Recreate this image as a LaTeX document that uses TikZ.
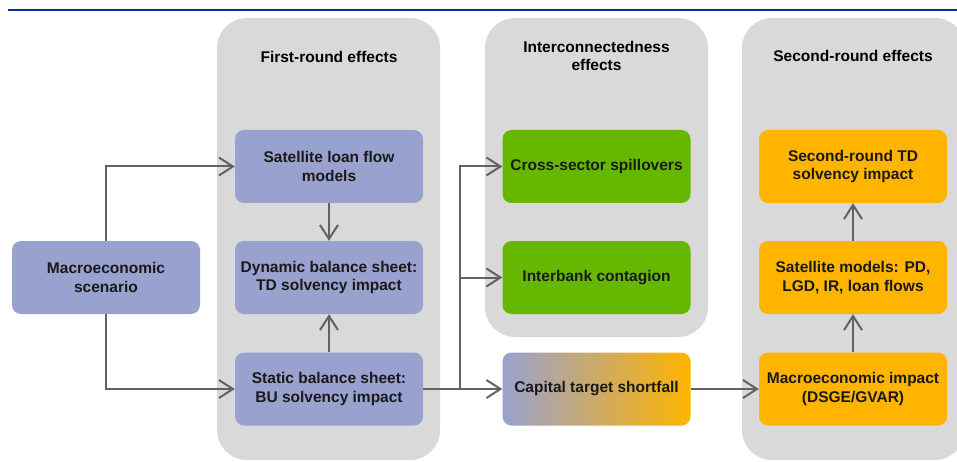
\documentclass[tikz,border=0pt]{standalone}
\usepackage{fontspec}
\setmainfont{Liberation Sans}
\usetikzlibrary{arrows.meta}

\definecolor{ecbblue}{RGB}{0,51,153}
\definecolor{panelgray}{RGB}{217,217,217}
\definecolor{lavender}{RGB}{153,161,207}
\definecolor{peach}{RGB}{214,170,150}
\definecolor{leafgreen}{RGB}{102,183,0}
\definecolor{amber}{RGB}{255,180,0}
\definecolor{linegray}{RGB}{98,98,98}

\begin{document}
\begin{tikzpicture}[x=1pt, y=1pt,
  font=\fontsize{15.5}{18.5}\selectfont\bfseries,
  panel/.style={fill=panelgray, rounded corners=30pt},
  stepbox/.style={rounded corners=9pt, minimum width=188pt, minimum height=73pt,
                  align=center, inner sep=0pt, text=black!90},
  arr/.style={draw=linegray, line width=2pt, -{Straight Barb[length=14pt,width=18pt]}}]

\useasboundingbox (0,0) rectangle (957,461);
\clip (0,0) rectangle (957,461);

% Header rule
\draw[ecbblue, line width=2pt] (8,451) -- (957,451);

% Panels
\fill[panel] (217,1) rectangle (440,443);
\fill[panel] (485,124) rectangle (708,443);
\fill[panel] (742,1) rectangle (965,443);

\node (firsthead) at (329,404) {First-round effects};
\node[align=center] (interhead) at (596.5,405) {Interconnectedness\\effects};
\node (secondhead) at (853,405) {Second-round effects};

% Boxes
\node[stepbox, fill=lavender] (macro) at (106,183.5) {Macroeconomic\\scenario};
\node[stepbox, fill=lavender] (satloan) at (329,294.5) {Satellite loan flow\\models};
\node[stepbox, fill=lavender] (dynamic) at (329,183.5) {Dynamic balance sheet:\\TD solvency impact};
\node[stepbox, fill=lavender] (static) at (329,72) {Static balance sheet:\\BU solvency impact};
\node[stepbox, fill=leafgreen] (cross) at (596.5,294.5) {Cross-sector spillovers};
\node[stepbox, fill=leafgreen] (interbank) at (596.5,183.5) {Interbank contagion};
\node[stepbox, left color=lavender, middle color=peach, right color=amber] (capital) at (596.5,72) {Capital target shortfall};
\node[stepbox, fill=amber] (impact) at (853,72) {Macroeconomic impact\\(DSGE/GVAR)};
\node[stepbox, fill=amber] (satmodels) at (853,183.5) {Satellite models: PD,\\LGD, IR, loan flows};
\node[stepbox, fill=amber] (secondtd) at (853,294.5) {Second-round TD\\solvency impact};

% Connectors
\coordinate (split) at (460,72);
\draw[arr] (macro.north) |- (satloan.west);
\draw[arr] (macro.south) |- (static.west);
\draw[arr] (satloan) -- (dynamic);
\draw[arr] (static) -- (dynamic);
\draw[arr] (static) -- (capital);
\draw[arr] (split) |- (cross.west);
\draw[arr] (split) |- (interbank.west);
\draw[arr] (capital) -- (impact);
\draw[arr] (impact) -- (satmodels);
\draw[arr] (satmodels) -- (secondtd);

\end{tikzpicture}
\end{document}
